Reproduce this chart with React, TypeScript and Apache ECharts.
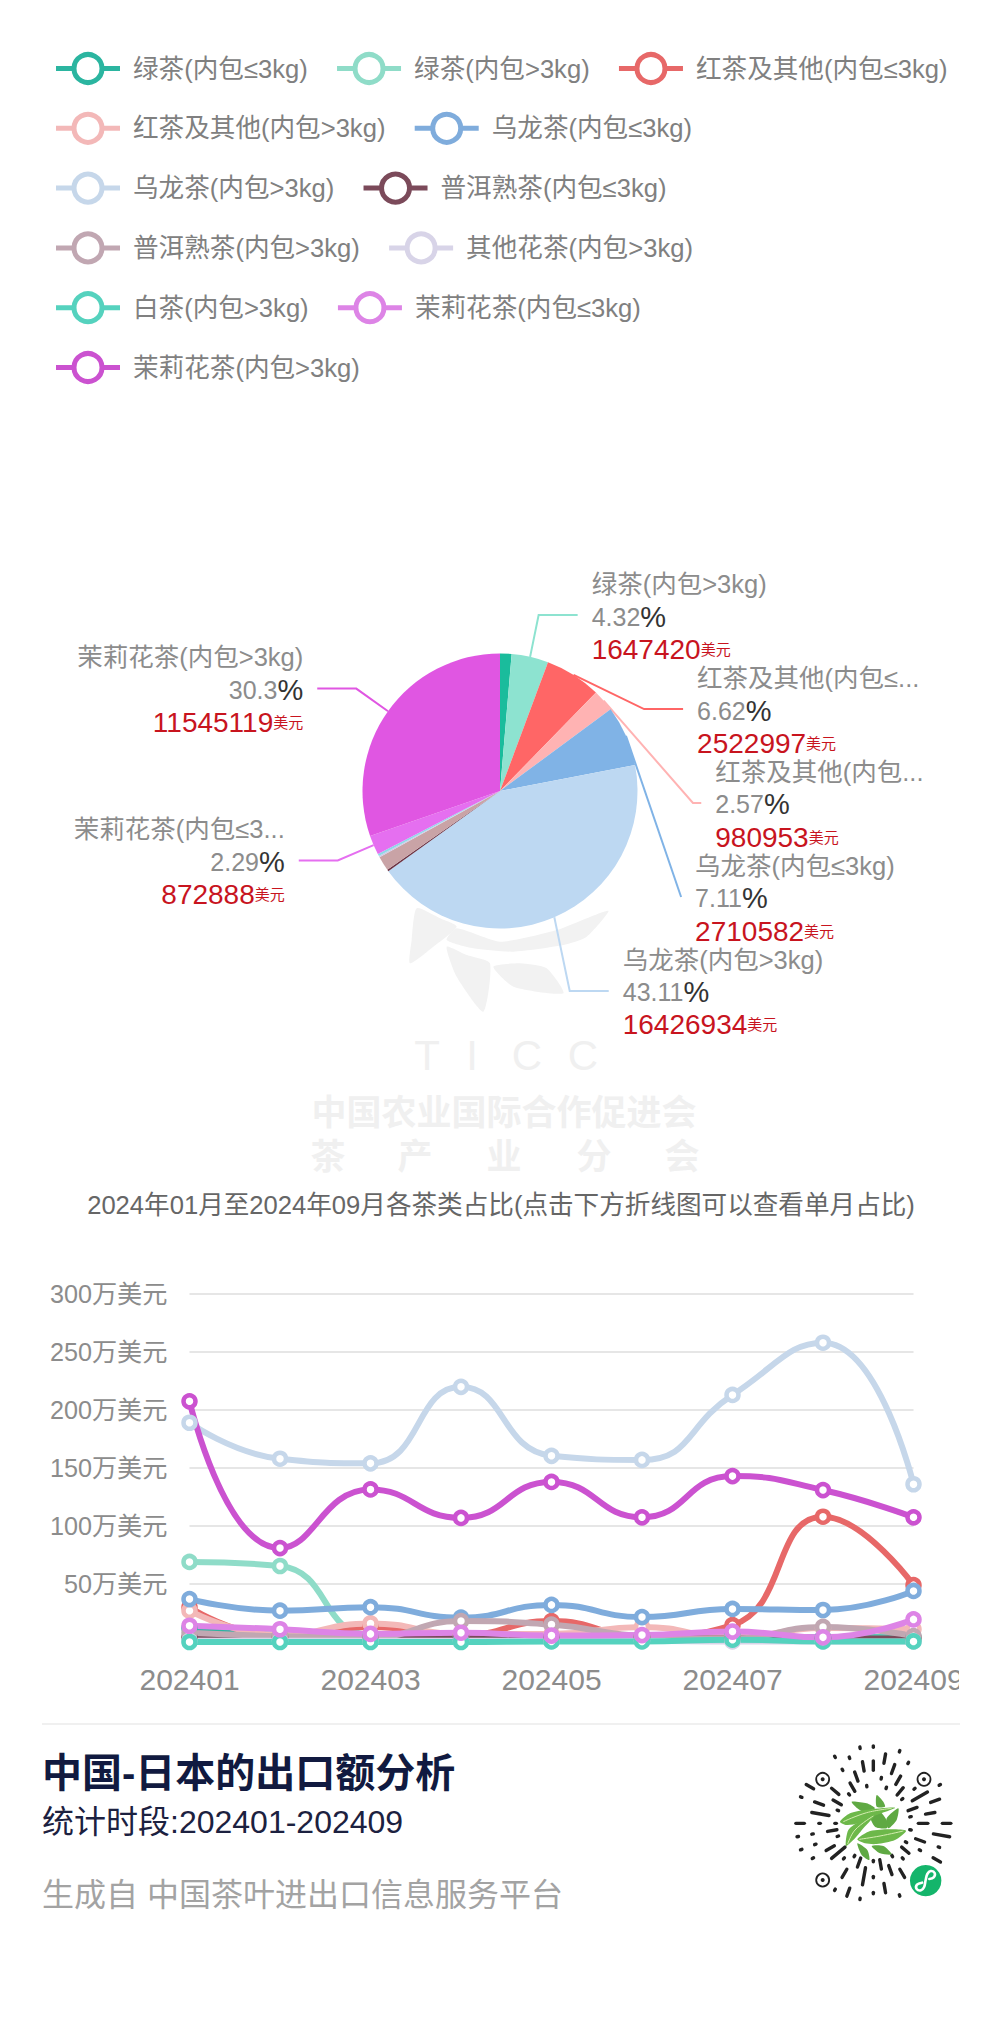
import React, { useEffect, useRef } from 'react';
import * as echarts from 'echarts';

const FONT = '"Liberation Sans", "Noto Sans CJK SC", sans-serif';

const MONTHS = ['202401', '202402', '202403', '202404', '202405', '202406', '202407', '202408', '202409'];
const Y_TICKS = [0, 50, 100, 150, 200, 250, 300];

const NAMES = [
  '绿茶(内包≤3kg)',
  '绿茶(内包>3kg)',
  '红茶及其他(内包≤3kg)',
  '红茶及其他(内包>3kg)',
  '乌龙茶(内包≤3kg)',
  '乌龙茶(内包>3kg)',
  '普洱熟茶(内包≤3kg)',
  '普洱熟茶(内包>3kg)',
  '其他花茶(内包>3kg)',
  '白茶(内包>3kg)',
  '茉莉花茶(内包≤3kg)',
  '茉莉花茶(内包>3kg)',
];

// 万美元 per month
const GREEN_S = [12, 6, 5, 5, 5, 5, 5, 4, 4];
const GREEN_L = [69, 65.5, 6, 5, 4, 5, 4, 3, 3];
const RED_S = [30, 5, 13, 6, 18, 5, 14.5, 108, 49];
const RED_L = [27, 6, 16, 7, 7, 13, 4, 12, 11];
const OOLONG_S = [37, 27, 30, 21, 32, 21.5, 28.5, 27.6, 44];
const OOLONG_L = [189, 158, 154, 220, 160.5, 157, 213, 258, 136];
const PUER_S = [4, 4, 4, 4, 4, 4, 3, 3, 3];
const PUER_L = [8, 5, 4, 18, 15, 5, 3, 13, 5];
const OTHER_L = [1, 1, 1, 1, 1, 1, 0.5, 0.5, 0.5];
const WHITE_L = [0, 0, 0, 0, 0.5, 0.5, 2, 0.5, 0.5];
const JASMINE_S = [14, 11, 7, 8, 5.5, 6, 9, 4, 19.5];
const JASMINE_L = [207.5, 81, 131.5, 107, 138, 107.5, 143, 131, 107.5];

const LINE_VALUES = [
  GREEN_S, GREEN_L, RED_S, RED_L, OOLONG_S, OOLONG_L,
  PUER_S, PUER_L, OTHER_L, WHITE_L, JASMINE_S, JASMINE_L,
];

// 美元, whole period. Unlabelled slices are estimated from their angle
const PIE_VALUES = [
  515000, 1647420, 2522997, 980953, 2710582, 16426934,
  75000, 650000, 60000, 100000, 872888, 11545119,
];

const LINE_COLORS = [
  '#2BB5A0', '#8FDCC8', '#E76868', '#F3B8B8', '#7FACDC', '#C6D7EA',
  '#7B4A5A', '#C1A7B2', '#D8D4E8', '#55D2BE', '#DD84E6', '#CB52D0',
];
const PIE_COLORS = [
  '#1ABC9C', '#8DE3D0', '#FF6666', '#FFB3B3', '#80B3E6', '#BDD8F2',
  '#6B3344', '#C9A3A6', '#CFCBE8', '#8ED8E8', '#E56FF0', '#E056E2',
];

const WATERMARK_LEAVES = [
  [[350, 85], [335, 180], [330, 250], [400, 200], [470, 140], [420, 115]],
  [[470, 145], [600, 185], [770, 150], [925, 92], [860, 170], [790, 195], [640, 215], [520, 205], [440, 180]],
  [[440, 200], [470, 290], [550, 395], [570, 250], [500, 225]],
  [[580, 260], [640, 320], [790, 340], [740, 265], [660, 250]],
];

const QR_LEAVES = [
  [[215, 185], [260, 190], [285, 205], [250, 215], [232, 205]],
  [[290, 165], [310, 185], [315, 200], [290, 200]],
  [[355, 205], [350, 240], [325, 265], [320, 235]],
  [[270, 225], [300, 215], [325, 250], [320, 265], [285, 260]],
  [[232, 310], [262, 330], [268, 360], [245, 345]],
  [[275, 318], [310, 318], [335, 343], [300, 340]],
  [[180, 245], [210, 220], [255, 210], [345, 203], [290, 225], [235, 250], [200, 255]],
  [[198, 318], [205, 270], [245, 240], [285, 225], [250, 265], [225, 295]],
  [[232, 298], [265, 275], [320, 268], [378, 272], [345, 300], [290, 312], [255, 310]],
];
const QR_VEINS = [
  [[190, 245], [260, 218], [335, 205]],
  [[203, 312], [225, 270], [280, 228]],
  [[238, 298], [300, 288], [370, 273]],
];
const QR_SPOKES = [
  '001101', '010110', '101101', '011010', '110100', '101011',
  '011101', '110110', '101100', '011011', '100111', '011010',
  '101011', '110101', '010110', '101101', '011001', '110110',
  '101010', '011101', '110011', '101101', '010110', '111001',
  '011010', '100101', '110101', '101011', '011100', '101101',
  '110011', '011011', '101110', '110101', '011010', '101101',
];
const QR_RADII = [37, 45, 53, 61, 69, 76];
const QR_EYES = [[128, 118], [432, 118], [128, 420]];

const qrX = (x: number) => 780 + x / 3;
const qrY = (y: number) => 1740 + y / 3;
const qrPoints = (pts: number[][]) => pts.map(([x, y]) => [qrX(x), qrY(y)]);

function buildQrCode() {
  const cx = qrX(280);
  const cy = qrY(250);
  const badge = [qrX(437), qrY(422)];
  const items: any[] = [];
  const blocked = (x: number, y: number) =>
    Math.hypot(x - badge[0], y - badge[1]) < 20 ||
    QR_EYES.some(([ex, ey]) => Math.hypot(x - qrX(ex), y - qrY(ey)) < 12);

  QR_SPOKES.forEach((spoke, i) => {
    const a = (i / QR_SPOKES.length) * Math.PI * 2;
    let start = -1;
    for (let k = 0; k <= spoke.length; k += 1) {
      if (spoke[k] === '1' && start < 0) start = k;
      if (spoke[k] !== '1' && start >= 0) {
        const r0 = QR_RADII[start];
        const r1 = QR_RADII[k - 1] + 1.5;
        const x1 = cx + Math.sin(a) * r0;
        const y1 = cy - Math.cos(a) * r0;
        const x2 = cx + Math.sin(a) * r1;
        const y2 = cy - Math.cos(a) * r1;
        if (!blocked(x1, y1) && !blocked(x2, y2)) {
          items.push({
            type: 'line',
            shape: { x1, y1, x2, y2 },
            style: { stroke: '#222', lineWidth: 3.4, lineCap: 'round' },
          });
        }
        start = -1;
      }
    }
  });

  QR_EYES.forEach(([ex, ey]) => {
    items.push({
      type: 'circle',
      shape: { cx: qrX(ex), cy: qrY(ey), r: 6.5 },
      style: { fill: 'none', stroke: '#222', lineWidth: 1.8 },
    });
    items.push({ type: 'circle', shape: { cx: qrX(ex), cy: qrY(ey), r: 2 }, style: { fill: '#222' } });
  });

  QR_LEAVES.forEach((pts, i) => {
    items.push({
      type: 'polygon',
      shape: { points: qrPoints(pts), smooth: 0.25 },
      style: { fill: i < 6 ? '#5FA943' : '#6DB84A' },
    });
  });
  QR_VEINS.forEach((pts) => {
    items.push({
      type: 'polyline',
      shape: { points: qrPoints(pts), smooth: 0.4 },
      style: { stroke: '#D5EDB0', lineWidth: 1, fill: 'none' },
    });
  });

  items.push({ type: 'circle', shape: { cx: badge[0], cy: badge[1], r: 15.7 }, style: { fill: '#14B56B' } });
  items.push({
    type: 'polyline',
    shape: {
      points: qrPoints([[426, 428], [411, 434], [410, 447], [423, 451], [432, 442], [437, 420], [442, 402], [452, 393], [464, 399], [461, 412], [448, 417]]),
      smooth: 0.4,
    },
    style: { stroke: '#fff', lineWidth: 2.6, fill: 'none', lineCap: 'round' },
  });
  return items;
}

function buildWatermark() {
  const text = (t: string, x: number, y: number, size: number, weight: string) => ({
    type: 'text',
    x,
    y,
    z: 0,
    silent: true,
    style: {
      text: t,
      fontSize: size,
      fontWeight: weight,
      fontFamily: FONT,
      fill: '#F0F0F0',
      align: 'center',
      verticalAlign: 'middle',
    },
  });
  const leaves = WATERMARK_LEAVES.map((pts) => ({
    type: 'polygon',
    z: 0,
    silent: true,
    shape: { points: pts.map(([x, y]) => [300 + x / 3, 880 + y / 3]), smooth: 0.2 },
    style: { fill: '#F2F2F2' },
  }));
  const spaced = ['茶', '产', '业', '分', '会'].map((c, i) =>
    text(c, [328, 415, 504, 594, 682][i], 1156, 35, 'bold'),
  );
  const ticc = ['T', 'I', 'C', 'C'].map((c, i) =>
    text(c, [427, 472, 527, 583][i], 1055, 42, 'normal'),
  );
  return [...leaves, ...ticc, text('中国农业国际合作促进会', 504, 1112, 35, 'bold'), ...spaced];
}

function buildFooter() {
  const text = (t: string, y: number, size: number, fill: string, weight = 'normal') => ({
    type: 'text',
    x: 42,
    y,
    style: { text: t, fontSize: size, fontWeight: weight, fontFamily: FONT, fill, align: 'left', verticalAlign: 'middle' },
  });
  return [
    {
      type: 'text',
      x: 501,
      y: 1205,
      style: {
        text: '2024年01月至2024年09月各茶类占比(点击下方折线图可以查看单月占比)',
        fontSize: 25.6,
        fontFamily: FONT,
        fill: '#666',
        align: 'center',
        verticalAlign: 'middle',
      },
    },
    {
      type: 'line',
      shape: { x1: 42, y1: 1724, x2: 960, y2: 1724 },
      style: { stroke: '#F0F0F0', lineWidth: 2 },
    },
    text('中国-日本的出口额分析', 1773, 40, '#111A40', 'bold'),
    text('统计时段:202401-202409', 1822, 32, '#1C2140'),
    text('生成自 中国茶叶进出口信息服务平台', 1895, 32, '#A3A3A3'),
    // the x axis label of 202409 is cut off at the chart edge in the original
    { type: 'rect', z: 100, shape: { x: 959, y: 1655, width: 41, height: 50 }, style: { fill: '#fff' } },
  ];
}

export default function App() {
  const chartRef = useRef<HTMLDivElement>(null);

  useEffect(() => {
    document.body.style.margin = '0';
    document.body.style.background = '#fff';
    if (!chartRef.current) return;
    const chart = echarts.init(chartRef.current, undefined, { renderer: 'svg' });

    const lineSeries = NAMES.map((name, i) => ({
      type: 'line',
      name,
      data: LINE_VALUES[i],
      smooth: true,
      symbol: 'circle',
      symbolSize: 12,
      clip: false,
      lineStyle: { color: LINE_COLORS[i], width: 6 },
      itemStyle: { color: '#fff', borderColor: LINE_COLORS[i], borderWidth: 4.5 },
    }));

    chart.setOption({
      animation: false,
      backgroundColor: '#fff',
      textStyle: { fontFamily: FONT },
      legend: {
        left: 48.5,
        top: 47,
        width: 900,
        itemWidth: 64,
        itemHeight: 35,
        itemGap: 26.8,
        data: NAMES,
        itemStyle: { borderWidth: 5 },
        lineStyle: { width: 5 },
        textStyle: { fontSize: 25.6, color: '#808080', fontFamily: FONT, padding: [0, 2.2, 0, 8] },
      },
      grid: { left: 189.5, top: 1294, width: 724, height: 348, containLabel: false },
      xAxis: {
        type: 'category',
        data: MONTHS,
        boundaryGap: false,
        axisLine: { show: false },
        axisTick: { show: false },
        axisLabel: { interval: 1, fontSize: 30, color: '#8C8C8C', margin: 22, fontFamily: FONT },
      },
      yAxis: {
        type: 'value',
        min: Y_TICKS[0],
        max: Y_TICKS[Y_TICKS.length - 1],
        interval: Y_TICKS[1] - Y_TICKS[0],
        axisLine: { show: false },
        axisTick: { show: false },
        axisLabel: {
          fontSize: 25.2,
          color: '#8C8C8C',
          margin: 22,
          fontFamily: FONT,
          formatter: (v: number) => (v === 0 ? '' : `${v}万美元`),
        },
        splitLine: { showMinLine: false, lineStyle: { color: '#E6E6E6', width: 2 } },
      },
      graphic: { elements: [...buildWatermark(), ...buildFooter(), ...buildQrCode()] },
      series: [
        ...lineSeries,
        {
          type: 'pie',
          left: 56,
          top: 560,
          width: 882,
          height: 480,
          center: [444, 231],
          radius: 137.5,
          minShowLabelAngle: 8,
          data: NAMES.map((name, i) => ({
            name,
            value: PIE_VALUES[i],
            itemStyle: { color: PIE_COLORS[i] },
          })),
          labelLine: { length: 39, length2: 39, lineStyle: { width: 2 } },
          label: {
            distanceToLabelLine: 14,
            fontFamily: FONT,
            padding: [3, 0, 0, 0],
            formatter: (p: any) =>
              `{n|${p.name}}\n{p|${Math.round(p.percent * 100) / 100}}{u|%}\n{v|${p.value}}{y|美元}`,
            rich: {
              n: { fontSize: 25.5, color: '#8C8C8C', lineHeight: 32.6, fontFamily: FONT },
              p: { fontSize: 25, color: '#8C8C8C', lineHeight: 32.6, fontFamily: FONT },
              u: { fontSize: 29, color: '#333', lineHeight: 32.6, fontFamily: FONT },
              v: { fontSize: 28, color: '#C8141E', lineHeight: 32.6, fontFamily: FONT },
              y: { fontSize: 15, color: '#C8141E', lineHeight: 32.6, fontFamily: FONT },
            },
          },
        },
      ],
    });

    return () => chart.dispose();
  }, []);

  return <div ref={chartRef} style={{ width: 1000, height: 2043 }} />;
}
